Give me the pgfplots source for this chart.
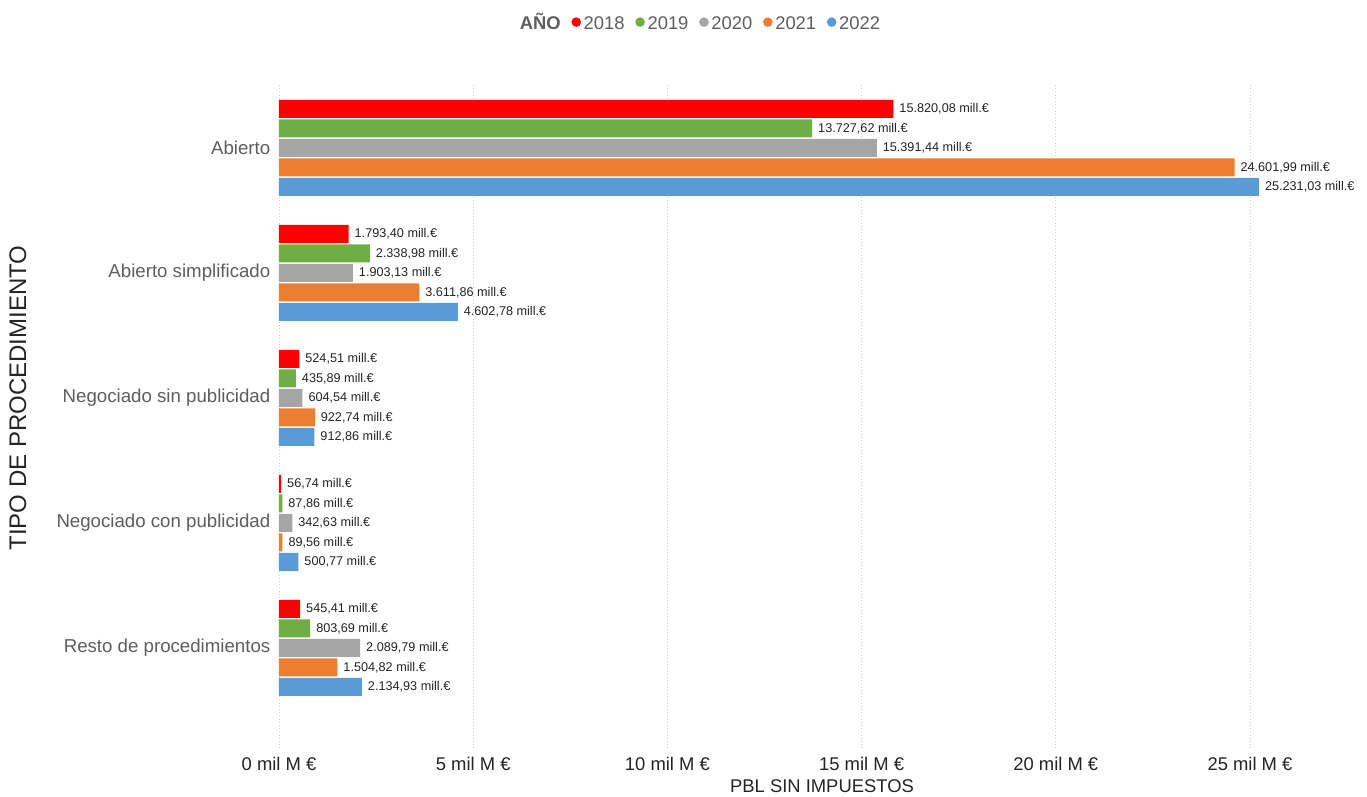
\documentclass[border=0pt]{standalone}
\usepackage{pgfplots}
\pgfplotsset{compat=1.18}
\usepackage{pgfplotstable}
\usepackage{fontspec}
\setmainfont{Liberation Sans}

\definecolor{c18}{HTML}{FF0000}
\definecolor{c19}{HTML}{70AD47}
\definecolor{c20}{HTML}{A5A5A5}
\definecolor{c21}{HTML}{ED7D31}
\definecolor{c22}{HTML}{5B9BD5}
\definecolor{txtgray}{HTML}{605E5C}
\definecolor{txtdark}{HTML}{252423}

% y: 4 = Abierto ... 0 = Resto de procedimientos; x in mill. EUR
\pgfplotstableread{
y x
4 15820.08
3 1793.40
2 524.51
1 56.74
0 545.41
}\tA
\pgfplotstableread{
y x
4 13727.62
3 2338.98
2 435.89
1 87.86
0 803.69
}\tB
\pgfplotstableread{
y x
4 15391.44
3 1903.13
2 604.54
1 342.63
0 2089.79
}\tC
\pgfplotstableread{
y x
4 24601.99
3 3611.86
2 922.74
1 89.56
0 1504.82
}\tD
\pgfplotstableread{
y x
4 25231.03
3 4602.78
2 912.86
1 500.77
0 2134.93
}\tE

\pgfplotsset{
  dot legend/.style={legend image code/.code={\fill (0.1cm,0.05cm) circle (3.6pt);}},
}

\begin{document}
\begin{tikzpicture}
\useasboundingbox (-209.25pt,-36pt) rectangle (816pt,561pt);
\begin{axis}[
  scale only axis,
  width=763.2pt, height=497.25pt,
  xbar, bar width=13.5pt,
  xmin=0, xmax=26200, ymin=-0.8, ymax=4.504,
  scaled x ticks=false,
  xtick={0,5000,10000,15000,20000,25000},
  xticklabels={0 mil M €, 5 mil M €, 10 mil M €, 15 mil M €, 20 mil M €, 25 mil M €},
  ytick={0,1,2,3,4},
  yticklabels={Resto de procedimientos, Negociado con publicidad, Negociado sin publicidad, Abierto simplificado, Abierto},
  axis line style={draw=none},
  major tick length=0pt,
  xmajorgrids, ymajorgrids=false,
  grid style={dotted, gray!40, line width=0.6pt},
  xticklabel style={font=\fontsize{13.8}{16}\selectfont, text=txtdark, yshift=-3pt},
  yticklabel style={font=\fontsize{14}{16}\selectfont, text=txtgray, xshift=-3pt},
  xlabel={PBL SIN IMPUESTOS},
  xlabel style={at={(0.5336,-0.0573)}, anchor=center, font=\fontsize{13.8}{16}\selectfont, text=txtdark},
  ylabel={TIPO DE PROCEDIMIENTO},
  ylabel style={at={(-0.2565,0.528)}, anchor=center, font=\fontsize{18}{20}\selectfont, text=txtdark},
  point meta=x,
  nodes near coords={\pgfmathprintnumber[fixed,fixed zerofill,precision=2,use comma,1000 sep={.},assume math mode=true]{\pgfplotspointmeta}~mill.€},
  every node near coord/.append style={anchor=west, xshift=1pt, font=\fontsize{9.5}{11}\selectfont, text=txtdark},
  clip=false,
  legend columns=-1,
  legend style={at={(0.4137,1.092)}, anchor=center, draw=none, fill=none,
    font=\fontsize{13.8}{16}\selectfont, text=txtgray,
    nodes={text height=10pt, text depth=2pt},
    /tikz/every even column/.append style={column sep=6pt},
    /tikz/every odd column/.append style={column sep=0pt}},
]
\addlegendimage{empty legend}
\addlegendentry{\textbf{AÑO}}
\addplot[fill=c18, draw=none, bar shift=29.25pt, dot legend] table[x=x, y=y] {\tA};
\addlegendentry{2018}
\addplot[fill=c19, draw=none, bar shift=14.625pt, dot legend] table[x=x, y=y] {\tB};
\addlegendentry{2019}
\addplot[fill=c20, draw=none, bar shift=0pt, dot legend] table[x=x, y=y] {\tC};
\addlegendentry{2020}
\addplot[fill=c21, draw=none, bar shift=-14.625pt, dot legend] table[x=x, y=y] {\tD};
\addlegendentry{2021}
\addplot[fill=c22, draw=none, bar shift=-29.25pt, dot legend] table[x=x, y=y] {\tE};
\addlegendentry{2022}
\end{axis}
\end{tikzpicture}
\end{document}
